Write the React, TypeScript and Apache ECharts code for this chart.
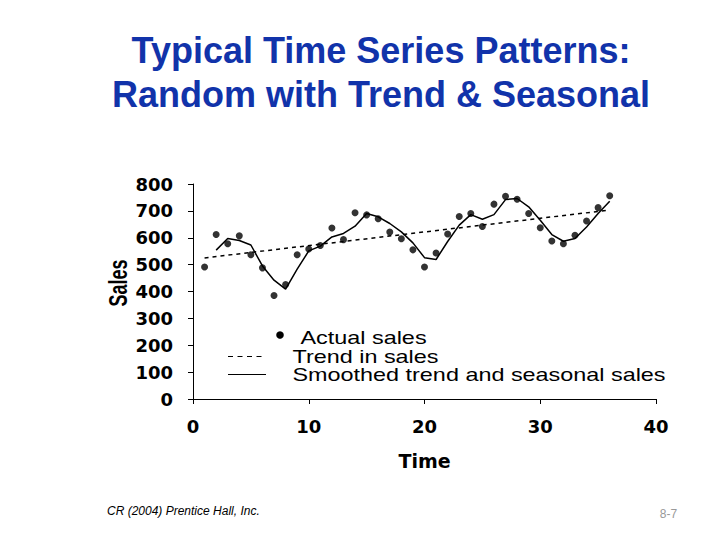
import React, { useEffect, useRef } from "react";
import * as echarts from "echarts";

// ---- data ----
const timePeriods = [
  1, 2, 3, 4, 5, 6, 7, 8, 9, 10, 11, 12, 13, 14, 15, 16, 17, 18,
  19, 20, 21, 22, 23, 24, 25, 26, 27, 28, 29, 30, 31, 32, 33, 34, 35, 36,
];
const actualSales = [
  491, 612, 578, 607, 537, 488, 385, 426, 537, 558, 571, 636, 593, 693, 685, 671, 621, 596,
  555, 491, 543, 614, 679, 690, 642, 725, 754, 743, 690, 637, 588, 578, 609, 662, 712, 756,
];
const smoothedPeriods = [
  2, 3, 4, 5, 6, 7, 8, 9, 10, 11, 12, 13, 14, 15, 16, 17, 18,
  19, 20, 21, 22, 23, 24, 25, 26, 27, 28, 29, 30, 31, 32, 33, 34, 35, 36,
];
const smoothedSales = [
  554, 597, 590, 573, 495, 442, 409, 483, 551, 569, 603, 616, 643, 690, 678, 653, 622,
  581, 526, 519, 586, 647, 686, 669, 686, 742, 746, 715, 665, 612, 587, 597, 640, 690, 736,
];
const trendPeriods = [1, 36];
const trendSales = [525, 703];

const seriesNames = ["Actual sales", "Trend in sales", "Smoothed trend and seasonal sales"];
const titleLines = ["Typical Time Series Patterns:", "Random with Trend & Seasonal"];
const xAxisName = "Time";
const yAxisName = "Sales";
const footerLeft = "CR (2004) Prentice Hall, Inc.";
const footerRight = "8-7";

const ARIAL = '"Liberation Sans", Arial, sans-serif';
const DEJAVU = '"DejaVu Sans", sans-serif';

export default function App() {
  const ref = useRef<HTMLDivElement>(null);

  useEffect(() => {
    document.body.style.margin = "0";
    if (!ref.current) return;
    const chart = echarts.init(ref.current, null, { renderer: "svg" });

    const axisLabelStyle = {
      fontFamily: DEJAVU,
      fontWeight: "bold" as const,
      fontSize: 18,
      color: "#000",
    };

    const txt = (
      text: string,
      x: number,
      y: number,
      opts: any = {}
    ) => ({
      type: "text",
      x,
      y,
      rotation: opts.rotation || 0,
      scaleX: opts.scaleX || 1,
      scaleY: opts.scaleY || 1,
      silent: true,
      style: {
        text,
        fill: opts.fill || "#000",
        fontFamily: opts.fontFamily || ARIAL,
        fontSize: opts.fontSize || 18,
        fontWeight: opts.fontWeight || "normal",
        fontStyle: opts.fontStyle || "normal",
        textAlign: opts.align || "left",
        align: opts.align || "left",
        textVerticalAlign: "middle",
        verticalAlign: "middle",
      },
    });

    chart.setOption({
      animation: false,
      backgroundColor: "#fff",
      grid: { left: 193, right: 64, top: 184, bottom: 141, containLabel: false },
      xAxis: {
        type: "value",
        min: 0,
        max: 40,
        interval: 10,
        name: xAxisName,
        nameLocation: "middle",
        nameGap: 52,
        nameTextStyle: { fontFamily: DEJAVU, fontWeight: "bold", fontSize: 19, color: "#000" },
        axisLine: { show: true, lineStyle: { color: "#000", width: 1 } },
        axisTick: { show: true, length: 5, lineStyle: { color: "#000", width: 1 } },
        axisLabel: { ...axisLabelStyle, margin: 18 },
        splitLine: { show: false },
      },
      yAxis: {
        type: "value",
        min: 0,
        max: 800,
        interval: 100,
        axisLine: { show: true, lineStyle: { color: "#000", width: 1 } },
        axisTick: { show: true, length: 5, lineStyle: { color: "#000", width: 1 } },
        axisLabel: { ...axisLabelStyle, margin: 20 },
        splitLine: { show: false },
      },
      series: [
        {
          name: seriesNames[0],
          type: "scatter",
          symbol: "circle",
          symbolSize: 7,
          itemStyle: { color: "#000" },
          data: timePeriods.map((t, i) => [t, actualSales[i]]),
          z: 3,
        },
        {
          name: seriesNames[1],
          type: "line",
          showSymbol: false,
          symbol: "none",
          lineStyle: { color: "#000", width: 1.5, type: [4, 4] },
          data: trendPeriods.map((t, i) => [t, trendSales[i]]),
          z: 2,
        },
        {
          name: seriesNames[2],
          type: "line",
          showSymbol: false,
          symbol: "none",
          lineStyle: { color: "#000", width: 1.5, type: "solid" },
          data: smoothedPeriods.map((t, i) => [t, smoothedSales[i]]),
          z: 2,
        },
      ],
      graphic: [
        txt(titleLines[0], 381, 50.5, { fontSize: 36, fontWeight: "bold", fill: "#1133aa", align: "center" }),
        txt(titleLines[1], 381, 94.5, { fontSize: 36, fontWeight: "bold", fill: "#1133aa", align: "center" }),
        txt(yAxisName, 118.5, 283, {
          fontSize: 18,
          fontWeight: "bold",
          align: "center",
          rotation: Math.PI / 2,
          scaleY: 1.45,
        }),
        // legend
        { type: "circle", silent: true, shape: { cx: 280, cy: 335, r: 3.8 }, style: { fill: "#000" } },
        txt(seriesNames[0], 300.5, 337.5, { fontSize: 18, scaleX: 1.3 }),
        {
          type: "line",
          silent: true,
          shape: { x1: 228, y1: 356.5, x2: 266, y2: 356.5 },
          style: { stroke: "#000", lineWidth: 1, lineDash: [5, 4.5] },
        },
        txt(seriesNames[1], 292.5, 356.5, { fontSize: 18, scaleX: 1.3 }),
        {
          type: "line",
          silent: true,
          shape: { x1: 228, y1: 374.5, x2: 266, y2: 374.5 },
          style: { stroke: "#000", lineWidth: 1 },
        },
        txt(seriesNames[2], 292.5, 374.5, { fontSize: 18, scaleX: 1.3 }),
        // footer
        txt(footerLeft, 107, 511, { fontSize: 12, fontStyle: "italic" }),
        txt(footerRight, 668.5, 514, { fontSize: 12, fill: "#999", align: "center" }),
      ],
    });

    return () => chart.dispose();
  }, []);

  return <div ref={ref} style={{ width: 720, height: 540 }} />;
}
